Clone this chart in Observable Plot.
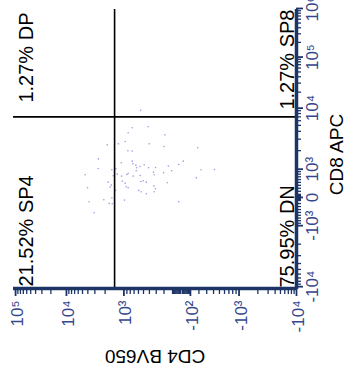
<!DOCTYPE html>
<html>
<head>
<meta charset="utf-8">
<script src="https://cdn.jsdelivr.net/npm/d3@7"></script>
<script src="https://cdn.jsdelivr.net/npm/@observablehq/plot@0.6"></script>
<style>
  html, body { margin: 0; padding: 0; background: white; }
  #wrap { position: relative; width: 349px; height: 376px; overflow: hidden; background: white; }
  #wrap svg { position: absolute; left: 0; top: 0; width: 376px !important; height: 349px !important; max-width: none !important;
    transform-origin: 0 0; transform: translate(0px, 376px) rotate(-90deg); }
</style>
</head>
<body>
<div id="wrap"></div>
<script>
// ---- data (events) ----
const cd8 = [9180, 4564, 4742, 3788, 3505, 2453, 2541, 2764, 2541, 2319, 2210, 1990, 1967, 1491, 1373, 1290, 1240, 1373, 1209, 1194,
  1178, 1120, 1028, 975, 1016, 1059, 1059, 1074, 1135, 934, 975, 989, 879, 853, 934, 776, 739, 801, 726, 788,
  826, 726, 750, 776, 662, 508, 544, 474, 532, 556, 508, 486, 406, 339, 350, 316, 316, 229, 373, 284,
  229, 184, 119, 184, -76, -87, -11, -141, -195, -206, -141, -508];
const cd4 = [557, 746, 419, 861, 189, 1844, 1215, 956, 403, 201, -185, 869, 746, 2593, 746, 1099, 730, -20, 31, 487,
  657, 570, 2628, 1547, 1335, 640, 414, 309, 149, 649, -226, -414, 338, 205, 110, 4474, 1476, 1272, 1084, 898,
  861, 722, 564, 329, -169, 1780, 1061, 956, 550, 505, 451, 161, 1580, 1651, 921, 861, 4049, 1353, 333, 309,
  591, 543, 451, 329, 2103, 979, 1547, 3793, 1715, 1529, 31, 3087];

const cd8Gate = 7000;
const cd4Gate = 1400;

const quadLabels = ["1.27% DP", "1.27% SP8", "21.52% SP4", "75.95% DN"];
const xTitle = "CD8 APC";
const yTitle = "CD4 BV650";

const cd8Ticks = [-1e4, -1e3, 0, 1e3, 1e4, 1e5, 1e6];
const cd8TickLabels = ["-10\u2074", "-10\u00b3", "0", "10\u00b3", "10\u2074", "10\u2075", "10\u2076"];
const cd4Ticks = [-1e4, -1e3, -1e2, 1e3, 1e4, 1e5];
const cd4TickLabels = ["-10\u2074", "-10\u00b3", "-10\u00b2", "10\u00b3", "10\u2074", "10\u2075"];

// ---- biexponential (logicle) display transform ----
function logicle(C, W) {
  let lo = 1.0001, hi = 200;
  for (let i = 0; i < 80; i++) { const m = (lo + hi) / 2; (2 * m * Math.log10(m) / (m + 1) < W) ? lo = m : hi = m; }
  const p = (lo + hi) / 2, p2 = p * p;
  const f = u => Math.pow(10, u) - p2 * Math.pow(10, -u / p) + p2 - 1;
  return v => {
    const a = Math.abs(v);
    let l = 0, h = 9;
    for (let i = 0; i < 80; i++) { const m = (l + h) / 2; (C * f(m) < a) ? l = m : h = m; }
    return Math.sign(v) * (l + h) / 2;
  };
}
const T8 = logicle(120.5, 1.1);
const T4 = logicle(46.5, 1.0);

function minorTicks(lo, hi, majors) {
  const out = [];
  for (let k = 1; k <= 5; k++) for (let m = 1; m <= 9; m++) {
    for (const s of [1, -1]) {
      const v = s * m * Math.pow(10, k);
      if (v >= lo && v <= hi && !majors.includes(v)) out.push(v);
    }
  }
  return out;
}

const x0 = -1.08e4, x1 = 1e6, y0 = -1e4, y1 = 1.1e5;
const xDomain = [T8(x0), T8(x1)];
const yDomain = [T4(y0), T4(y1)];

const major8 = cd8Ticks.map(T8);
const major4 = cd4Ticks.map(T4);
const minor8 = minorTicks(x0, x1, cd8Ticks).map(T8);
const minor4 = minorTicks(y0, y1, cd4Ticks).map(T4);
const lab8 = new Map(major8.map((u, i) => [u, cd8TickLabels[i]]));
const lab4 = new Map(major4.map((u, i) => [u, cd4TickLabels[i]]));

const events = cd8.map((v, i) => ({cd8: v, cd4: cd4[i]}));

const navy = "#1d3566";
const labelColor = "#34468c";
const font = "'Liberation Sans', Arial, sans-serif";

const chart = Plot.plot({
  width: 376,
  height: 349,
  marginLeft: 87,
  marginRight: 9,
  marginTop: 13,
  marginBottom: 53,
  style: {fontFamily: font, background: "white", fontSize: "17px"},
  x: {domain: xDomain},
  y: {domain: yDomain},
  marks: [
    Plot.dot(events, {x: d => T8(d.cd8), y: d => T4(d.cd4), r: 0.8, fill: "#5a5acf", fillOpacity: 0.6, stroke: "none"}),
    Plot.ruleX([T8(cd8Gate)], {stroke: "black", strokeWidth: 1.6}),
    Plot.ruleY([T4(cd4Gate)], {stroke: "black", strokeWidth: 1.6}),
    // axes (ticks)
    Plot.axisX(minor8, {anchor: "bottom", tickSize: 5, tickFormat: () => "", stroke: navy, strokeWidth: 1.3, label: null}),
    Plot.axisX(major8, {anchor: "bottom", tickSize: 7, tickFormat: () => "", stroke: navy, strokeWidth: 1.8, label: null}),
    Plot.axisX(major8, {anchor: "bottom", tickSize: 0, tickPadding: 9, tickFormat: d => lab8.get(d), color: labelColor, fontSize: 17, label: null}),
    Plot.axisY(minor4, {anchor: "left", tickSize: 5, tickFormat: () => "", stroke: navy, strokeWidth: 1.3, label: null}),
    Plot.axisY(major4, {anchor: "left", tickSize: 7, tickFormat: () => "", stroke: navy, strokeWidth: 1.8, label: null}),
    Plot.axisY(major4, {anchor: "left", tickSize: 0, tickPadding: 12, dy: 2, tickFormat: d => lab4.get(d), color: labelColor, fontSize: 17, label: null}),
    // axis lines
    Plot.ruleY([yDomain[0]], {stroke: navy, strokeWidth: 3.5}),
    Plot.ruleX([xDomain[0]], {stroke: navy, strokeWidth: 3.5}),
    // quadrant labels
    Plot.text([quadLabels[0]], {frameAnchor: "top-right", textAnchor: "end", lineAnchor: "top", dx: -4, dy: 5, fontSize: 20, fill: "black", fontFamily: font}),
    Plot.text([quadLabels[1]], {frameAnchor: "bottom-right", textAnchor: "end", lineAnchor: "bottom", dx: -1, dy: -3, fontSize: 20, fill: "black", fontFamily: font}),
    Plot.text([quadLabels[2]], {frameAnchor: "top-left", textAnchor: "start", lineAnchor: "top", dx: 2, dy: 5, fontSize: 20, fill: "black", fontFamily: font}),
    Plot.text([quadLabels[3]], {frameAnchor: "bottom-left", textAnchor: "start", lineAnchor: "bottom", dx: 1, dy: -3, fontSize: 20, fill: "black", fontFamily: font}),
    // axis titles
    Plot.text([xTitle], {frameAnchor: "bottom", textAnchor: "middle", lineAnchor: "middle", dx: -6, dy: 40, fontSize: 19, fill: "black", fontFamily: font}),
    Plot.text([yTitle], {frameAnchor: "left", textAnchor: "middle", lineAnchor: "middle", rotate: -90, dx: -68, fontSize: 19, fill: "black", fontFamily: font})
  ]
});
document.getElementById("wrap").appendChild(chart);
</script>
</body>
</html>
